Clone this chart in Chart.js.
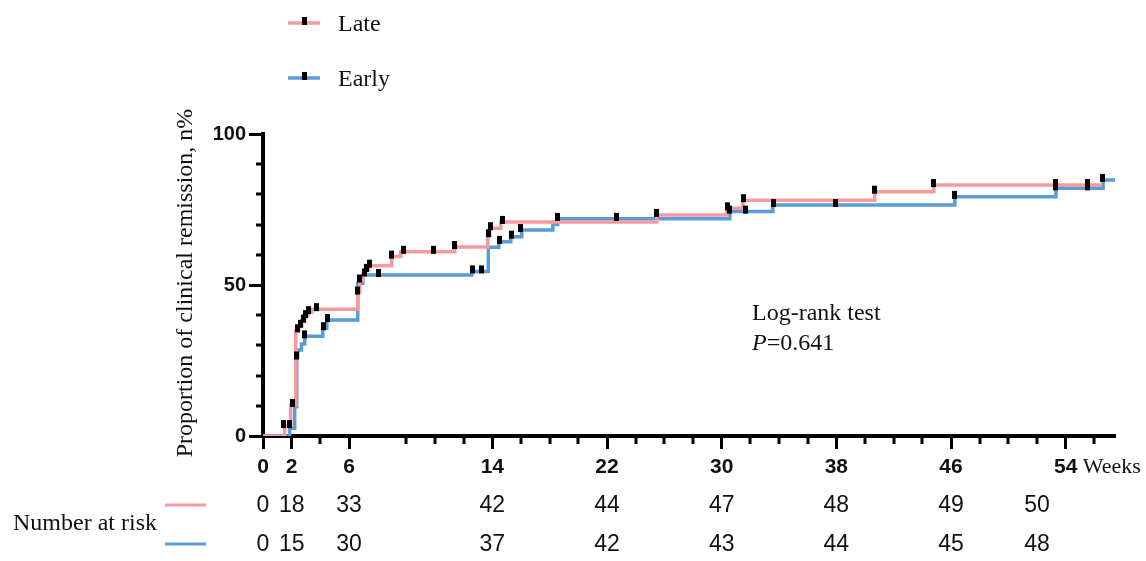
<!DOCTYPE html>
<html><head><meta charset="utf-8">
<script src="https://cdn.jsdelivr.net/npm/chart.js@4.4.1/dist/chart.umd.min.js"></script>
<style>html,body{margin:0;padding:0;background:#fff;}#wrap{width:1146px;height:561px;position:relative;}</style>
</head><body><div id="wrap"><canvas id="c" width="1146" height="561"></canvas></div>
<script>
// ---- data (x in axis position units; the axis label "14" sits at position 16, etc.) ----
const seriesNames = ['Late', 'Early'];
const lateX = [0, 1.51, 1.93, 2.28, 2.49, 2.70, 2.91, 3.12, 3.40, 6.61, 6.75, 6.96, 7.17, 7.38, 8.98, 9.61, 13.38, 15.68, 15.82, 16.59, 27.47, 32.35, 33.47, 42.68, 46.80, 58.54];
const lateY = [0, 3.3, 10.3, 34.8, 36.5, 38.2, 39.7, 41.0, 42.0, 47.5, 51.5, 53.5, 55.0, 56.4, 59.4, 61.0, 62.6, 66.5, 68.8, 70.9, 73.2, 75.4, 78.1, 80.9, 83.1, 83.1];
const earlyX = [0, 1.86, 2.21, 2.35, 2.42, 2.68, 2.91, 4.17, 4.45, 6.61, 6.96, 14.56, 15.72, 16.45, 17.29, 18.05, 20.22, 20.56, 32.57, 35.57, 48.27, 55.32, 58.61, 59.44];
const earlyY = [0, 2.6, 9.7, 26.0, 28.5, 30.5, 33.0, 35.7, 38.4, 50.6, 53.3, 54.5, 62.5, 64.3, 66.0, 68.2, 70.0, 71.9, 74.3, 76.5, 79.2, 82.0, 84.8, 84.8];
const lateCensorX = [1.44, 1.86, 2.09, 2.40, 2.61, 2.82, 2.96, 3.14, 3.70, 6.56, 6.75, 7.05, 7.22, 7.40, 8.96, 9.82, 11.91, 13.33, 15.75, 15.89, 16.68, 27.45, 32.38, 33.55, 42.64, 46.80, 55.32, 57.55];
const lateCensorY = [3.3, 3.3, 10.3, 35.0, 36.5, 38.2, 39.7, 41.0, 42.0, 47.5, 51.5, 53.5, 55.0, 56.4, 59.4, 61.0, 61.0, 62.6, 66.5, 68.8, 70.9, 73.2, 75.4, 78.1, 80.9, 83.1, 83.1, 83.1];
const earlyCensorX = [2.33, 2.91, 4.19, 4.49, 8.07, 14.61, 15.24, 16.52, 17.33, 17.98, 20.56, 24.68, 32.57, 33.69, 35.59, 39.94, 48.27, 55.32, 57.55, 58.55];
const earlyCensorY = [26.0, 33.0, 35.7, 38.4, 53.3, 54.5, 54.5, 64.3, 66.0, 68.2, 71.9, 71.9, 74.3, 74.3, 76.5, 76.5, 79.2, 82.0, 82.0, 84.8];
const xTickPositions = [0, 2, 6, 16, 24, 32, 40, 48, 56];
const xTickLabels = ['0', '2', '6', '14', '22', '30', '38', '46', '54'];
const yTickValues = [0, 50, 100];
const riskPositions = [0, 2, 6, 16, 24, 32, 40, 48, 54];
const lateAtRisk = [0, 18, 33, 42, 44, 47, 48, 49, 50];
const earlyAtRisk = [0, 15, 30, 37, 42, 43, 44, 45, 48];

const PINK = '#F59A9E';
const BLUE = '#5B9BD8';
const SANS = '"Liberation Sans", Arial, sans-serif';
const SERIF = '"Liberation Serif", "Times New Roman", serif';

const mark = (() => { const c = document.createElement('canvas'); c.width = 5; c.height = 14; const g = c.getContext('2d'); g.fillStyle = '#000'; g.fillRect(0, 1, 5, 8); return c; })();
const pts = (xs, ys) => xs.map((x, i) => ({ x, y: ys[i] }));

const extras = {
  id: 'extras',
  afterDraw(chart) {
    const { ctx, scales: { x, y }, chartArea } = chart;
    ctx.save();
    // minor ticks
    ctx.strokeStyle = '#000'; ctx.lineWidth = 3;
    for (let v = 2; v <= 58; v += 2) {
      if (v === 8 || xTickPositions.includes(v)) continue;
      const px = Math.round(x.getPixelForValue(v));
      ctx.beginPath(); ctx.moveTo(px, chartArea.bottom); ctx.lineTo(px, chartArea.bottom + 8); ctx.stroke();
    }
    for (let v = 10; v < 100; v += 10) {
      if (yTickValues.includes(v)) continue;
      const py = Math.round(y.getPixelForValue(v));
      ctx.beginPath(); ctx.moveTo(chartArea.left, py); ctx.lineTo(chartArea.left - 7, py); ctx.stroke();
    }
    // legend
    const legendRows = [[seriesNames[0], PINK, 23], [seriesNames[1], BLUE, 78]];
    ctx.font = '24px ' + SERIF; ctx.fillStyle = '#111'; ctx.textBaseline = 'middle'; ctx.textAlign = 'left';
    legendRows.forEach(([name, col, ly]) => {
      ctx.strokeStyle = col; ctx.lineWidth = 3.5;
      ctx.beginPath(); ctx.moveTo(288, ly); ctx.lineTo(320, ly); ctx.stroke();
      ctx.drawImage(mark, 302, ly - 7);
      ctx.fillText(name, 338, ly + 2);
    });
    // y title
    ctx.save();
    ctx.translate(186, 283); ctx.rotate(-Math.PI / 2);
    ctx.textAlign = 'center'; ctx.textBaseline = 'middle'; ctx.font = '24px ' + SERIF;
    ctx.fillText('Proportion of clinical remission, n%', 0, 0);
    ctx.restore();
    // log-rank
    ctx.textAlign = 'left'; ctx.textBaseline = 'alphabetic'; ctx.font = '24px ' + SERIF;
    ctx.fillText('Log-rank test', 752, 320);
    ctx.font = 'italic 24px ' + SERIF; ctx.fillText('P', 752, 350);
    const pw = ctx.measureText('P').width;
    ctx.font = '24px ' + SERIF; ctx.fillText('=0.641', 752 + pw, 350);
    // Weeks
    ctx.font = '22px ' + SERIF; ctx.fillText('Weeks', x.getPixelForValue(56) + 17, 473);
    // number at risk
    ctx.font = '24px ' + SERIF; ctx.textBaseline = 'middle';
    ctx.fillText('Number at risk', 13, 524);
    [[PINK, 505, lateAtRisk], [BLUE, 544, earlyAtRisk]].forEach(([col, ry, arr]) => {
      ctx.strokeStyle = col; ctx.lineWidth = 3;
      ctx.beginPath(); ctx.moveTo(165, ry); ctx.lineTo(206, ry); ctx.stroke();
      ctx.font = '23px ' + SANS; ctx.textAlign = 'center'; ctx.fillStyle = '#111';
      arr.forEach((n, i) => ctx.fillText(String(n), x.getPixelForValue(riskPositions[i]), ry + 1));
      ctx.textAlign = 'left';
    });
    ctx.restore();
  }
};

new Chart(document.getElementById('c'), {
  type: 'line',
  data: {
    datasets: [
      { label: seriesNames[1], data: pts(earlyX, earlyY), borderColor: BLUE, borderWidth: 3.5, stepped: true, pointRadius: 0, fill: false, order: 3 },
      { label: seriesNames[0], data: pts(lateX, lateY), borderColor: PINK, borderWidth: 3.5, stepped: true, pointRadius: 0, fill: false, order: 2 },
      { label: seriesNames[1] + ' censored', type: 'scatter', data: pts(earlyCensorX, earlyCensorY), pointStyle: mark, pointRadius: 3, showLine: false, order: 1 },
      { label: seriesNames[0] + ' censored', type: 'scatter', data: pts(lateCensorX, lateCensorY), pointStyle: mark, pointRadius: 3, showLine: false, order: 0 }
    ]
  },
  options: {
    responsive: false, devicePixelRatio: 1, animation: false, events: [],
    layout: { padding: { top: 134, right: 31, left: 0, bottom: 0 } },
    plugins: { legend: { display: false }, tooltip: { enabled: false } },
    scales: {
      x: {
        type: 'linear', min: 0, max: 59.44,
        afterBuildTicks: s => { s.ticks = xTickPositions.map(v => ({ value: v })); },
        afterFit: s => { s.height = 125; },
        ticks: { callback: v => xTickLabels[xTickPositions.indexOf(v)], font: { family: SANS, size: 21, weight: 'bold' }, color: '#111', padding: 6, maxRotation: 0, autoSkip: false },
        grid: { display: true, drawOnChartArea: false, drawTicks: true, tickLength: 13, tickWidth: 3, tickColor: '#000' },
        border: { display: true, color: '#000', width: 4 }
      },
      y: {
        type: 'linear', min: 0, max: 100,
        afterBuildTicks: s => { s.ticks = yTickValues.map(v => ({ value: v })); },
        afterFit: s => { s.width = 263; },
        ticks: { font: { family: SANS, size: 20, weight: 'bold' }, color: '#111', padding: 3 },
        grid: { display: true, drawOnChartArea: false, drawTicks: true, tickLength: 14, tickWidth: 3, tickColor: '#000' },
        border: { display: true, color: '#000', width: 4 }
      }
    }
  },
  plugins: [extras]
});
</script></body></html>
